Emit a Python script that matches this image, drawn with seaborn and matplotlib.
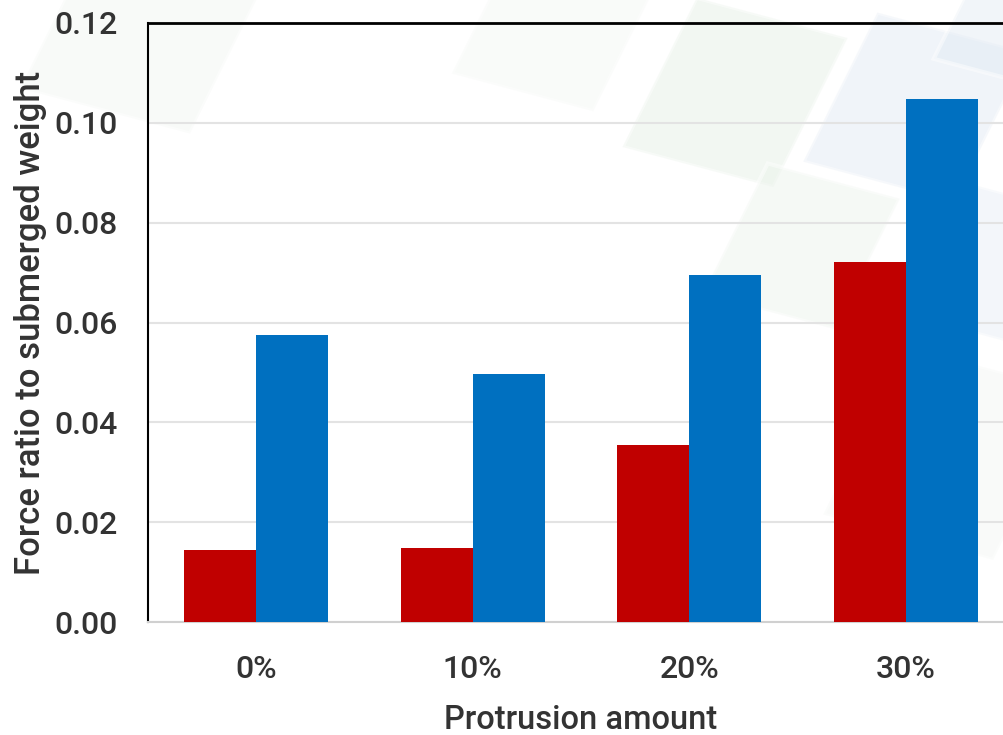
import matplotlib
matplotlib.use("Agg")
import matplotlib.pyplot as plt
import matplotlib.patches as mpatches
import matplotlib.transforms as mtransforms
import seaborn as sns
import pandas as pd

# data
categories = ["0%", "10%", "20%", "30%"]
series_names = ["Series 1", "Series 2"]
series_1 = [0.0144, 0.0148, 0.0355, 0.0721]
series_2 = [0.0574, 0.0496, 0.0696, 0.1047]
y_ticks = [0.00, 0.02, 0.04, 0.06, 0.08, 0.10, 0.12]

df = pd.DataFrame({
    "Protrusion amount": categories * 2,
    "series": [series_names[0]] * 4 + [series_names[1]] * 4,
    "value": series_1 + series_2,
})

sns.set_style("white")
plt.rcParams["font.family"] = ["Roboto", "DejaVu Sans"]

fig = plt.figure(figsize=(10.04, 7.35), dpi=100)
fig.patch.set_facecolor("white")

# faint decorative squares behind the chart
bg = fig.add_axes([0, 0, 1, 1], zorder=-5)
bg.set_xlim(0, 1)
bg.set_ylim(0, 1)
bg.axis("off")
deco = [(0.62, 0.80, 0.16, "#e3efe3"), (0.80, 0.78, 0.16, "#dfe8f3"),
        (0.70, 0.60, 0.14, "#ebf3eb"), (0.88, 0.58, 0.14, "#e6edf6"),
        (0.02, 0.88, 0.18, "#f0f6f0"), (0.93, 0.92, 0.12, "#e0e9f3"),
        (0.45, 0.90, 0.15, "#f2f7f2"), (0.82, 0.30, 0.18, "#f3f6f3")]
for x0, y0, s, c in deco:
    r = mpatches.Rectangle((x0, y0), s, s * 1.35, facecolor=c,
                           edgecolor="white", lw=3, alpha=0.45)
    r.set_transform(mtransforms.Affine2D().rotate_deg_around(x0, y0, -20)
                    + bg.transAxes)
    bg.add_patch(r)

ax = fig.add_axes([148 / 1004, 113 / 735, 866 / 1004, 599 / 735])
ax.patch.set_alpha(0)

sns.barplot(data=df, x="Protrusion amount", y="value", hue="series",
            palette=["#c00000", "#0070c0"], width=0.667, gap=0,
            saturation=1, legend=False, ax=ax, zorder=3)
for p in ax.patches:
    p.set_edgecolor("none")

ax.set_ylim(0, 0.12)
ax.set_xlim(-0.5, 3.5)
ax.set_yticks(y_ticks)
ax.set_yticklabels([f"{v:.2f}" for v in y_ticks])
ax.yaxis.grid(True, color="#e3e3e3", lw=1.5, zorder=0)
ax.set_axisbelow(True)

for lab in ax.get_xticklabels() + ax.get_yticklabels():
    lab.set_fontweight("medium")
ax.tick_params(axis="both", labelsize=23, colors="#333333", length=0)
ax.tick_params(axis="x", pad=24)
ax.tick_params(axis="y", pad=22)
ax.set_xlabel("Protrusion amount", fontsize=23.5, color="#333333",
              labelpad=14, fontweight="medium")
ax.set_ylabel("Force ratio to submerged weight", fontsize=25,
              color="#333333", labelpad=5, fontweight="medium")

ax.spines["left"].set_color("black")
ax.spines["left"].set_linewidth(1.5)
ax.spines["top"].set_color("black")
ax.spines["top"].set_linewidth(2)
ax.spines["bottom"].set_color("#d0d0d0")
ax.spines["bottom"].set_linewidth(1.5)
ax.spines["right"].set_visible(False)

fig.savefig("out.png", dpi=100)
